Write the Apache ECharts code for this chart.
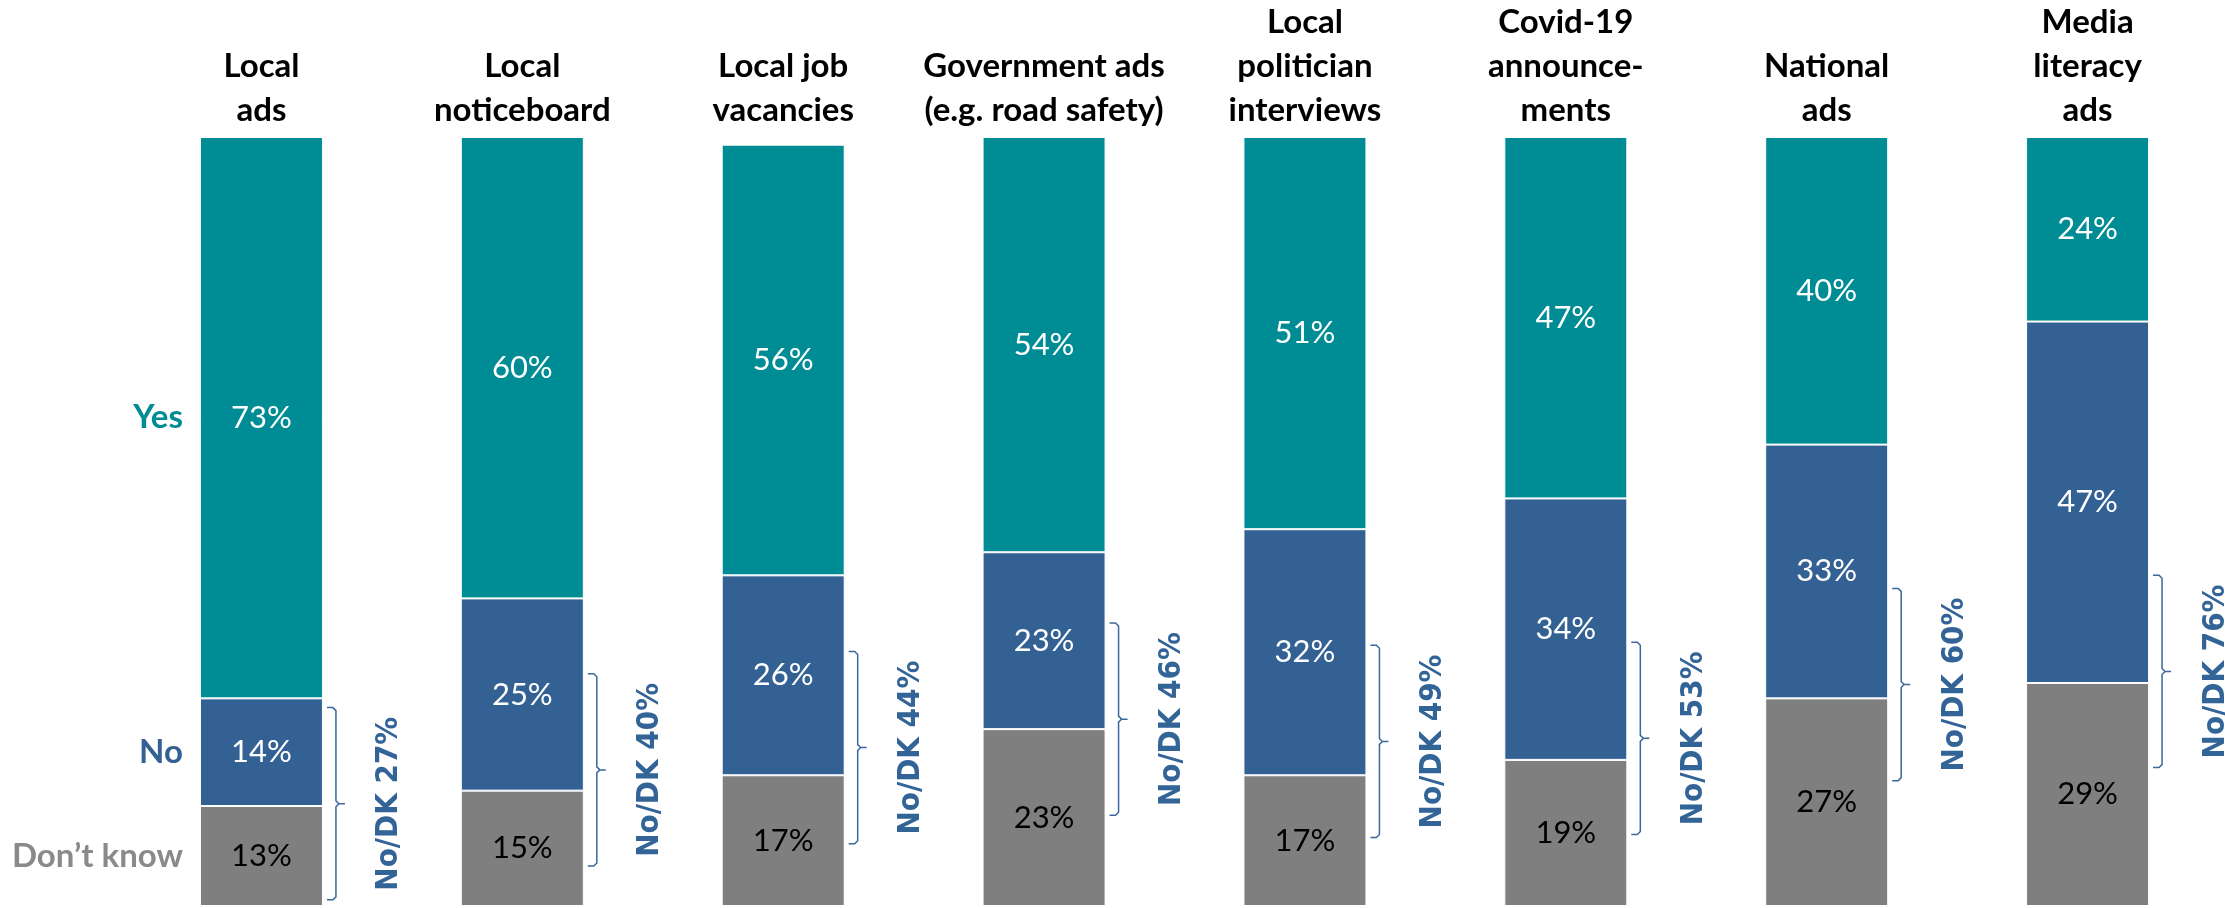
<!DOCTYPE html>
<html>
<head>
<meta charset="utf-8">
<title>Awareness by content type</title>
<script src="https://cdn.jsdelivr.net/npm/echarts@6/dist/echarts.min.js"></script>
<style>
  html, body { margin: 0; padding: 0; background: #fff; }
  #chart { width: 2225px; height: 908px; }
</style>
</head>
<body>
<div id="chart"></div>
<script>
// Categories shown above the bars
const categories = [
  'Local\nads',
  'Local\nnoticeboard',
  'Local job\nvacancies',
  'Government ads\n(e.g. road safety)',
  'Local\npolitician\ninterviews',
  'Covid-19\nannounce-\nments',
  'National\nads',
  'Media\nliteracy\nads'
];

// Share of responses (%)
const yesValues = [73, 60, 56, 54, 51, 47, 40, 24];
const noValues = [14, 25, 26, 23, 32, 34, 33, 47];
const dontKnowValues = [13, 15, 17, 23, 17, 19, 27, 29];

// Combined "No" + "Don't know" as reported
const noDkTotals = [27, 40, 44, 46, 49, 53, 60, 76];

// Vertical centre of each bracket, in % units
const bracketMid = [13.3, 17.7, 20.6, 24.3, 21.4, 21.8, 28.8, 30.5];
const BRACKET_SPAN = 25;

const seriesNames = ['Yes', 'No', 'Don\u2019t know'];

const COLORS = {
  yes: '#008C94',
  no: '#336194',
  dk: '#7F7F7F',
  dkText: '#8A8A8A',
  bracket: '#3A679C',
  noDkText: '#336497'
};
const BAR_WIDTH = 123;
const LABEL_FONT = 'Lato, "Open Sans", sans-serif';

const chart = echarts.init(document.getElementById('chart'), null, { renderer: 'canvas' });

function segLabel(color) {
  return {
    show: true,
    position: 'inside',
    formatter: '{c}%',
    color: color,
    fontFamily: LABEL_FONT,
    fontSize: 31
  };
}

// Series names placed beside the first bar, centred on each segment
const nameRows = [
  [0, dontKnowValues[0] / 2, 2],
  [0, dontKnowValues[0] + noValues[0] / 2, 1],
  [0, dontKnowValues[0] + noValues[0] + yesValues[0] / 2, 0]
];
const nameColors = [COLORS.yes, COLORS.no, COLORS.dkText];

// Brackets spanning the No / Don't know part of each bar
const bracketRows = categories.map((c, i) => [i, bracketMid[i], noDkTotals[i]]);

const option = {
  animation: false,
  grid: { left: 131, right: 7, top: 133, bottom: 2 },
  xAxis: {
    type: 'category',
    position: 'top',
    data: categories,
    axisLine: { show: false },
    axisTick: { show: false },
    axisLabel: {
      interval: 0,
      margin: 5,
      color: '#000',
      fontFamily: LABEL_FONT,
      fontWeight: 'bold',
      fontSize: 33,
      lineHeight: 44
    }
  },
  yAxis: {
    type: 'value',
    min: 0,
    max: 100,
    show: false
  },
  series: [
    {
      name: seriesNames[2],
      type: 'bar',
      stack: 'total',
      barWidth: BAR_WIDTH,
      data: dontKnowValues,
      itemStyle: { color: COLORS.dk, borderColor: '#fff', borderWidth: 1 },
      label: segLabel('#000')
    },
    {
      name: seriesNames[1],
      type: 'bar',
      stack: 'total',
      barWidth: BAR_WIDTH,
      data: noValues,
      itemStyle: { color: COLORS.no, borderColor: '#fff', borderWidth: 1 },
      label: segLabel('#fff')
    },
    {
      name: seriesNames[0],
      type: 'bar',
      stack: 'total',
      barWidth: BAR_WIDTH,
      data: yesValues,
      itemStyle: { color: COLORS.yes, borderColor: '#fff', borderWidth: 1 },
      label: segLabel('#fff')
    },
    {
      type: 'custom',
      name: 'seriesNames',
      data: nameRows,
      encode: { x: 0, y: 1 },
      silent: true,
      z: 5,
      renderItem: function (params, api) {
        const p = api.coord([api.value(0), api.value(1)]);
        const k = api.value(2);
        return {
          type: 'text',
          x: p[0] - BAR_WIDTH / 2 - 17,
          y: p[1],
          style: {
            text: seriesNames[k],
            fill: nameColors[k],
            font: 'bold 33px ' + LABEL_FONT,
            align: 'right',
            verticalAlign: 'middle'
          }
        };
      }
    },
    {
      type: 'custom',
      name: 'brackets',
      data: bracketRows,
      encode: { x: 0, y: 1 },
      silent: true,
      z: 5,
      renderItem: function (params, api) {
        const i = api.value(0);
        const mid = api.value(1);
        const c = api.coord([i, mid]);
        const top = api.coord([i, mid + BRACKET_SPAN / 2])[1];
        const bottom = api.coord([i, mid - BRACKET_SPAN / 2])[1];
        const xr = c[0] + BAR_WIDTH / 2;
        const xl = xr + 13;
        const pts = [
          [xr + 4, top], [xr + 10, top], [xl, top + 3],
          [xl, c[1] - 3], [xl + 3, c[1]], [xr + 22, c[1]],
          [xl + 3, c[1]], [xl, c[1] + 3],
          [xl, bottom - 3], [xr + 10, bottom], [xr + 4, bottom]
        ];
        return {
          type: 'group',
          children: [
            {
              type: 'polyline',
              shape: { points: pts },
              style: { stroke: COLORS.bracket, lineWidth: 1.5, fill: null }
            },
            {
              type: 'text',
              x: c[0] + 128,
              y: c[1],
              rotation: Math.PI / 2,
              style: {
                text: 'No/DK ' + api.value(2) + '%',
                fill: COLORS.noDkText,
                font: 'bold 31px "DejaVu Sans Condensed", "DejaVu Sans", sans-serif',
                align: 'center',
                verticalAlign: 'middle'
              }
            }
          ]
        };
      }
    }
  ]
};

chart.setOption(option);
</script>
</body>
</html>
